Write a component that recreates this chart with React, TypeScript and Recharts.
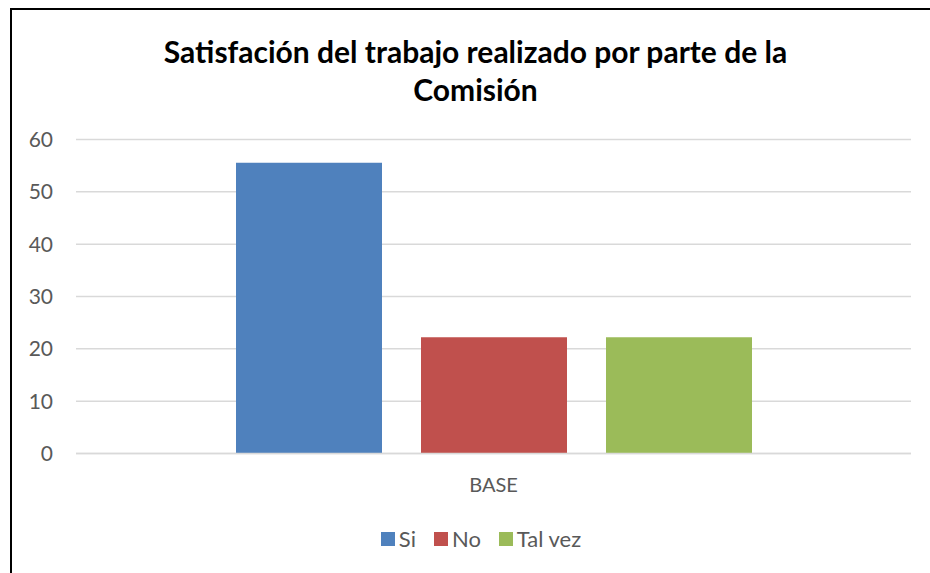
import { BarChart, Bar, XAxis, YAxis, CartesianGrid } from 'recharts';

const categories = ['BASE'];
const seriesNames = ['Si', 'No', 'Tal vez'];
const siValues = [55.56];
const noValues = [22.22];
const talVezValues = [22.22];
const yTicks = [0, 10, 20, 30, 40, 50, 60];

const colors = ['#4F81BD', '#C0504D', '#9BBB59'];
const keys = ['si', 'no', 'talVez'];

const data = categories.map((c, i) => ({
  cat: c,
  si: siValues[i],
  no: noValues[i],
  talVez: talVezValues[i],
}));

const FONT = 'Lato, "Open Sans", sans-serif';

// legend drawn as plain html so it doesn't shrink the plot area
const LegendBox = () => (
  <div
    style={{
      position: 'absolute',
      left: 0,
      top: 526,
      width: 962,
      display: 'flex',
      justifyContent: 'center',
      fontFamily: FONT,
      fontSize: 22,
      lineHeight: '26px',
      color: '#595959',
    }}
  >
    {seriesNames.map((name, i) => (
      <div key={name} style={{ display: 'flex', alignItems: 'center', marginRight: i < 2 ? 18 : 0 }}>
        <span style={{ display: 'inline-block', width: 14, height: 14, background: colors[i], marginRight: 4 }} />
        <span>{name}</span>
      </div>
    ))}
  </div>
);

export default function App() {
  return (
    <div style={{ position: 'absolute', left: 0, top: 0, width: 930, height: 573, overflow: 'hidden', background: '#fff' }}>
      <div
        style={{
          position: 'absolute',
          left: 10,
          top: 8,
          width: 940,
          height: 600,
          border: '2px solid #000',
          boxSizing: 'border-box',
        }}
      />
      <div
        style={{
          position: 'absolute',
          left: 0,
          top: 32,
          width: 951,
          textAlign: 'center',
          fontFamily: FONT,
          fontWeight: 700,
          fontSize: 30,
          lineHeight: '38px',
          color: '#000',
        }}
      >
        Satisfación del trabajo realizado por parte de la
        <br />
        Comisión
      </div>
      <div style={{ position: 'absolute', left: 0, top: 0 }}>
        <BarChart
          width={930}
          height={573}
          data={data}
          margin={{ top: 139.5, right: 19, bottom: 89.5, left: 0 }}
          barSize={146}
          barGap={39}
        >
          <CartesianGrid vertical={false} stroke="#D9D9D9" strokeWidth={1.5} />
          <XAxis
            dataKey="cat"
            height={30}
            axisLine={{ stroke: '#D9D9D9', strokeWidth: 1.5 }}
            tickLine={false}
            tickSize={0}
            tickMargin={24}
            tick={{ fill: '#595959', fontSize: 20, fontFamily: FONT }}
          />
          <YAxis
            width={76}
            domain={[0, 60]}
            ticks={yTicks}
            axisLine={false}
            tickLine={false}
            tickSize={0}
            tickMargin={23}
            tick={{ fill: '#595959', fontSize: 21, fontFamily: FONT }}
          />
          {keys.map((k, i) => (
            <Bar key={k} dataKey={k} name={seriesNames[i]} fill={colors[i]} isAnimationActive={false} />
          ))}
        </BarChart>
      </div>
      <LegendBox />
    </div>
  );
}
